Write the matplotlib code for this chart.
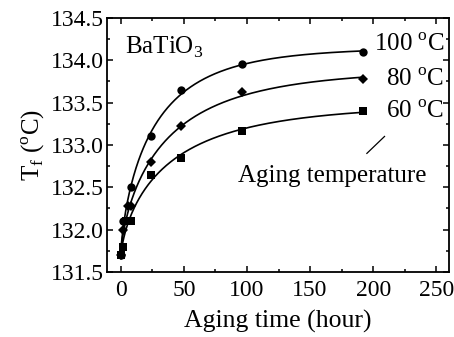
import numpy as np
import matplotlib
matplotlib.use('Agg')
import matplotlib.pyplot as plt
from matplotlib.ticker import MultipleLocator

plt.rcParams['font.family'] = ['Liberation Serif', 'DejaVu Serif']
plt.rcParams['mathtext.fontset'] = 'custom'
plt.rcParams['mathtext.rm'] = 'Liberation Serif'

# aging time (hour) and Tf (C)
t_100 = [0, 2, 8, 24, 48, 96, 192]
T_100 = [131.70, 132.10, 132.50, 133.10, 133.65, 133.95, 134.10]
t_80 = [0, 2, 6, 8, 24, 48, 96, 192]
T_80 = [131.70, 132.00, 132.28, 132.28, 132.80, 133.22, 133.62, 133.78]
t_60 = [0, 2, 4, 8, 24, 48, 96, 192]
T_60 = [131.70, 131.80, 132.10, 132.10, 132.65, 132.85, 133.17, 133.40]
labels = ['100 $^{\\rm o}$C', '80 $^{\\rm o}$C', '60 $^{\\rm o}$C']
markers = ['o', 'D', 's']


def fit_curve(t, T):
    # stretched exponential T = T0 + A*(1-exp(-(t/tau)^b)), grid search on tau, b
    t = np.asarray(t, float)
    T = np.asarray(T, float)
    best = None
    for tau in np.linspace(3, 120, 235):
        for b in np.linspace(0.3, 1.5, 61):
            f = 1 - np.exp(-(t / tau) ** b)
            M = np.column_stack([np.ones_like(f), f])
            coef, res, _, _ = np.linalg.lstsq(M, T, rcond=None)
            err = np.sum((M @ coef - T) ** 2)
            if best is None or err < best[0]:
                best = (err, tau, b, coef)
    _, tau, b, coef = best
    tt = np.linspace(0, max(t), 400)
    return tt, coef[0] + coef[1] * (1 - np.exp(-(tt / tau) ** b))


fig = plt.figure(figsize=(4.54, 3.37), dpi=100)
ax = fig.add_axes([0.2357, 0.193, 0.753, 0.754])

for t, T, m in zip([t_100, t_80, t_60], [T_100, T_80, T_60], markers):
    tt, ff = fit_curve(t, T)
    ax.plot(tt, ff, color='black', lw=1.2)
    ax.plot(t, T, m, color='black', ms=6 if m != 'D' else 5.5, mew=0)

ax.set_xlim(-11, 260)
ax.set_ylim(131.5, 134.5)
ax.xaxis.set_major_locator(MultipleLocator(50))
ax.xaxis.set_minor_locator(MultipleLocator(25))
ax.yaxis.set_major_locator(MultipleLocator(0.5))
ax.yaxis.set_minor_locator(MultipleLocator(0.25))
ax.yaxis.set_major_formatter(matplotlib.ticker.FormatStrFormatter('%.1f'))
ax.tick_params(which='both', direction='in', top=True, right=True, labelsize=17, width=1.1)
ax.tick_params(axis='x', pad=6)
ax.tick_params(axis='y', pad=2)
ax.tick_params(which='major', length=4)
ax.tick_params(which='minor', length=2.5)
for s in ax.spines.values():
    s.set_linewidth(1.3)

fs = 18
ax.set_xlabel('Aging time (hour)', fontsize=18.5, labelpad=6)
ax.set_ylabel('T$_{\\rm f}$ ($^{\\rm o}$C)', fontsize=fs, labelpad=3)

ax.text(3, 134.15, 'BaTiO$_{\\rm 3}$', fontsize=fs, va='center')
ax.text(201, 134.18, labels[0], fontsize=fs, va='center')
ax.text(210, 133.77, labels[1], fontsize=fs, va='center')
ax.text(210, 133.39, labels[2], fontsize=fs, va='center')
ax.text(93, 132.63, 'Aging temperature', fontsize=fs, va='center')
ax.plot([195, 209], [132.9, 133.1], color='black', lw=0.9)

fig.savefig('out.png', dpi=100)
